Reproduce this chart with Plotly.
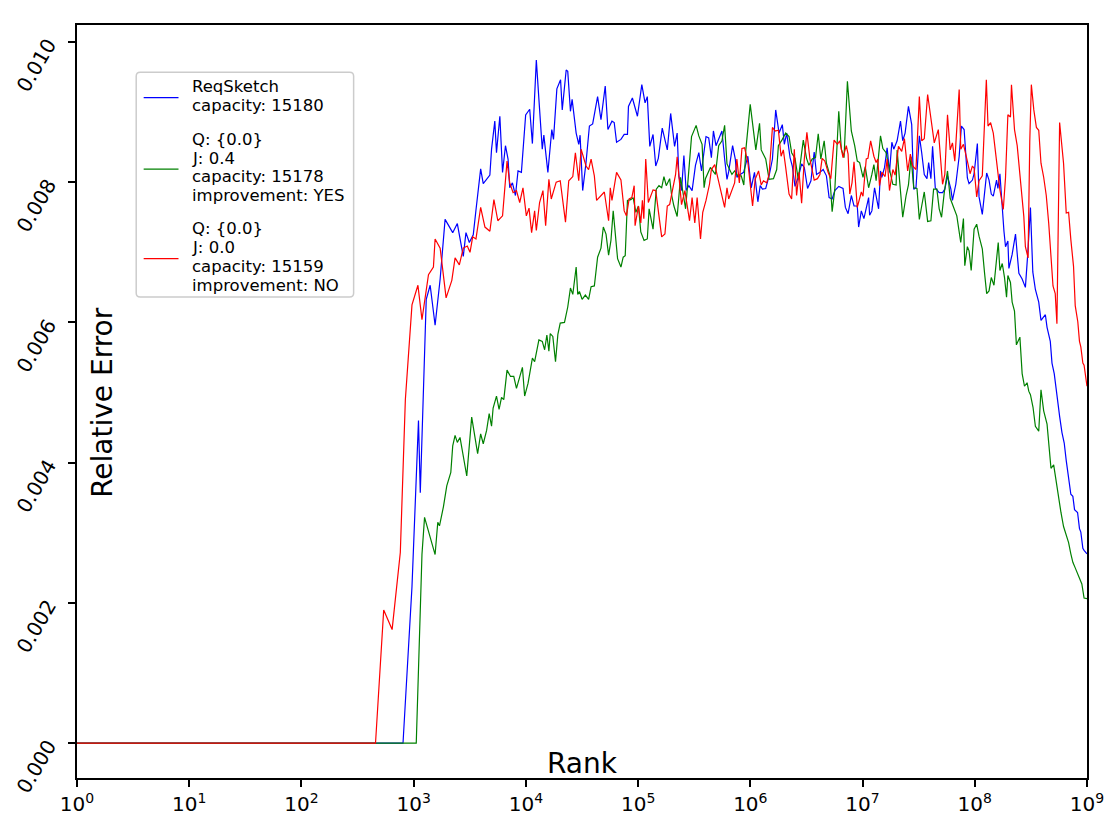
import plotly.graph_objects as go

# Sampled ranks are stored as log10(rank); relative errors in units of 1e-3.

# ReqSketch, capacity 15180
req_log_rank = [
    0.000, 2.905, 2.985, 3.043, 3.059, 3.112, 3.147, 3.191, 3.236, 3.280, 3.348, 3.389, 3.442, 3.466,
    3.496, 3.531, 3.555, 3.597, 3.620, 3.679, 3.694, 3.723, 3.738, 3.768, 3.792, 3.818, 3.841, 3.856,
    3.880, 3.907, 3.930, 3.960, 3.998, 4.034, 4.058, 4.093, 4.116, 4.146, 4.160, 4.196, 4.231, 4.246,
    4.276, 4.309, 4.324, 4.359, 4.373, 4.397, 4.412, 4.448, 4.471, 4.483, 4.506, 4.536, 4.566, 4.595,
    4.639, 4.669, 4.707, 4.731, 4.767, 4.787, 4.808, 4.847, 4.876, 4.905, 4.914, 4.949, 4.994, 5.033,
    5.062, 5.082, 5.104, 5.133, 5.157, 5.180, 5.215, 5.260, 5.290, 5.325, 5.348, 5.363, 5.387, 5.408,
    5.428, 5.452, 5.481, 5.511, 5.541, 5.565, 5.605, 5.629, 5.653, 5.671, 5.694, 5.724, 5.747, 5.771,
    5.792, 5.807, 5.842, 5.866, 5.880, 5.910, 5.940, 5.978, 6.008, 6.037, 6.067, 6.088, 6.108, 6.137,
    6.167, 6.197, 6.226, 6.256, 6.285, 6.303, 6.324, 6.354, 6.374, 6.398, 6.427, 6.457, 6.481, 6.510,
    6.540, 6.569, 6.590, 6.620, 6.649, 6.678, 6.702, 6.729, 6.753, 6.788, 6.826, 6.847, 6.871, 6.900,
    6.924, 6.953, 6.965, 6.989, 7.012, 7.033, 7.054, 7.063, 7.083, 7.107, 7.130, 7.143, 7.160, 7.172,
    7.196, 7.219, 7.240, 7.261, 7.278, 7.308, 7.338, 7.358, 7.379, 7.409, 7.438, 7.456, 7.476, 7.506,
    7.527, 7.550, 7.574, 7.589, 7.609, 7.624, 7.648, 7.683, 7.713, 7.733, 7.757, 7.787, 7.801, 7.831,
    7.861, 7.881, 7.905, 7.934, 7.949, 7.979, 7.994, 8.023, 8.038, 8.067, 8.106, 8.127, 8.147, 8.165,
    8.194, 8.206, 8.224, 8.245, 8.260, 8.274, 8.295, 8.304, 8.333, 8.363, 8.393, 8.422, 8.451, 8.473,
    8.496, 8.517, 8.540, 8.570, 8.590, 8.629, 8.644, 8.673, 8.688, 8.708, 8.732, 8.756, 8.777, 8.797,
    8.815, 8.836, 8.856, 8.874, 8.889, 8.916, 8.933, 8.945, 8.963, 8.974, 9.000,
]
req_err_milli = [
    0.00, 0.00, 2.23, 4.60, 3.57, 6.33, 6.53, 5.96, 6.62, 7.47, 7.28, 7.41, 6.94, 7.28,
    7.14, 7.25, 7.60, 8.19, 7.98, 8.10, 8.47, 8.87, 8.42, 8.94, 8.14, 8.52, 8.33, 7.92,
    7.99, 7.81, 8.16, 8.14, 8.96, 9.04, 8.55, 9.74, 9.18, 8.47, 8.67, 8.14, 8.75, 8.61,
    9.33, 9.46, 9.03, 9.60, 9.58, 9.01, 9.18, 8.70, 8.54, 8.67, 7.88, 8.28, 8.80, 8.83,
    9.22, 8.89, 9.37, 8.75, 8.87, 8.85, 8.57, 8.61, 8.68, 8.68, 9.08, 9.20, 8.94, 9.39,
    9.13, 9.22, 8.51, 8.68, 8.23, 8.34, 8.77, 8.46, 8.98, 8.51, 8.70, 8.09, 7.88, 8.38,
    7.88, 7.95, 7.88, 8.24, 8.42, 8.16, 8.65, 8.63, 8.35, 8.73, 8.52, 8.65, 8.73, 8.33,
    8.04, 8.15, 8.52, 8.33, 8.07, 8.11, 8.14, 8.37, 7.92, 8.14, 7.72, 7.95, 7.90, 7.91,
    8.09, 8.33, 9.03, 8.70, 8.82, 8.54, 8.70, 8.35, 8.23, 7.94, 8.07, 8.26, 8.21, 7.91,
    8.02, 8.43, 8.11, 8.14, 8.18, 8.09, 7.78, 7.76, 7.88, 7.94, 7.91, 7.64, 7.55, 7.81,
    7.66, 7.66, 7.36, 7.59, 7.48, 7.63, 7.78, 7.53, 7.59, 7.92, 7.74, 7.62, 8.16, 8.07,
    8.21, 8.49, 8.14, 8.57, 8.47, 8.59, 8.87, 8.59, 8.70, 9.08, 8.82, 7.90, 7.92, 8.66,
    8.42, 8.11, 8.05, 8.28, 8.05, 8.51, 7.92, 7.85, 7.85, 7.90, 8.09, 7.90, 7.74, 7.97,
    8.37, 8.80, 8.75, 8.06, 7.98, 8.03, 8.12, 8.55, 7.79, 7.54, 8.13, 8.03, 7.83, 7.80,
    8.03, 7.91, 8.12, 7.61, 7.30, 7.08, 7.16, 6.77, 6.97, 7.26, 6.70, 6.62, 6.50, 7.00,
    7.64, 6.72, 6.47, 6.29, 6.03, 6.11, 5.93, 5.73, 5.42, 5.27, 4.94, 4.66, 4.43, 4.28,
    4.03, 3.77, 3.55, 3.52, 3.33, 3.29, 3.06, 3.01, 2.78, 2.75, 2.70,
]

# Q: {0.0}, J: 0.4, capacity 15178
j04_log_rank = [
    0.000, 3.023, 3.074, 3.097, 3.191, 3.215, 3.230, 3.265, 3.295, 3.331, 3.348, 3.369, 3.389, 3.413,
    3.473, 3.517, 3.570, 3.597, 3.620, 3.650, 3.673, 3.694, 3.708, 3.738, 3.761, 3.783, 3.803, 3.832,
    3.863, 3.892, 3.916, 3.945, 3.969, 3.989, 4.019, 4.058, 4.078, 4.116, 4.146, 4.167, 4.187, 4.205,
    4.217, 4.240, 4.264, 4.285, 4.306, 4.344, 4.373, 4.397, 4.418, 4.448, 4.462, 4.477, 4.501, 4.530,
    4.559, 4.581, 4.610, 4.639, 4.669, 4.690, 4.714, 4.737, 4.758, 4.778, 4.796, 4.817, 4.847, 4.867,
    4.885, 4.905, 4.935, 4.956, 4.980, 5.003, 5.024, 5.053, 5.082, 5.098, 5.133, 5.162, 5.186, 5.210,
    5.230, 5.251, 5.281, 5.299, 5.319, 5.348, 5.378, 5.399, 5.423, 5.446, 5.476, 5.517, 5.541, 5.570,
    5.588, 5.600, 5.644, 5.689, 5.718, 5.747, 5.771, 5.792, 5.807, 5.836, 5.860, 5.889, 5.919, 5.942,
    5.960, 5.999, 6.049, 6.082, 6.097, 6.137, 6.167, 6.206, 6.235, 6.250, 6.285, 6.315, 6.345, 6.368,
    6.398, 6.427, 6.451, 6.472, 6.501, 6.522, 6.551, 6.581, 6.605, 6.628, 6.658, 6.678, 6.708, 6.729,
    6.753, 6.788, 6.811, 6.835, 6.865, 6.900, 6.930, 6.953, 6.974, 7.004, 7.024, 7.054, 7.083, 7.101,
    7.121, 7.160, 7.181, 7.210, 7.240, 7.270, 7.299, 7.308, 7.329, 7.358, 7.388, 7.409, 7.432, 7.456,
    7.485, 7.506, 7.527, 7.550, 7.580, 7.609, 7.633, 7.662, 7.683, 7.704, 7.728, 7.757, 7.781, 7.810,
    7.840, 7.875, 7.899, 7.911, 7.934, 7.949, 7.968, 7.994, 8.017, 8.038, 8.067, 8.088, 8.106, 8.127,
    8.147, 8.171, 8.194, 8.209, 8.224, 8.245, 8.265, 8.283, 8.295, 8.318, 8.333, 8.354, 8.371, 8.402,
    8.422, 8.443, 8.466, 8.481, 8.496, 8.519, 8.540, 8.570, 8.590, 8.614, 8.644, 8.659, 8.679, 8.703,
    8.726, 8.747, 8.768, 8.791, 8.815, 8.836, 8.856, 8.874, 8.895, 8.916, 8.933, 8.954, 8.974, 9.000,
]
j04_err_milli = [
    0.00, 0.00, 2.69, 3.22, 2.69, 3.15, 3.10, 3.37, 3.67, 3.86, 4.24, 4.39, 4.29, 4.36,
    3.81, 4.65, 4.13, 4.41, 4.27, 4.46, 4.70, 4.52, 4.78, 4.95, 4.76, 4.93, 4.90, 5.32,
    5.23, 5.23, 5.06, 5.21, 5.36, 4.95, 5.13, 5.49, 5.44, 5.75, 5.73, 5.61, 5.82, 5.59,
    5.84, 5.80, 5.44, 5.83, 5.99, 6.00, 6.22, 6.49, 6.40, 6.79, 6.40, 6.44, 6.33, 6.39,
    6.33, 6.51, 6.52, 6.93, 7.06, 7.36, 7.26, 6.96, 7.17, 7.59, 7.29, 6.91, 6.79, 6.93,
    6.95, 7.74, 7.75, 7.78, 7.57, 7.66, 7.29, 7.17, 7.19, 7.62, 7.33, 7.90, 7.95, 7.92,
    8.08, 7.95, 8.05, 7.81, 7.66, 7.51, 8.07, 7.83, 7.62, 8.05, 8.65, 8.81, 8.66, 8.54,
    7.92, 8.05, 8.21, 8.11, 8.52, 8.59, 8.81, 8.26, 8.20, 8.11, 8.16, 8.09, 8.09, 7.96,
    8.46, 9.11, 8.46, 8.84, 8.46, 8.33, 8.04, 8.05, 8.18, 8.52, 8.61, 8.70, 8.65, 8.42,
    8.34, 8.04, 8.34, 8.60, 8.34, 8.24, 8.33, 8.35, 8.69, 8.33, 8.59, 8.27, 8.10, 7.58,
    7.90, 9.01, 8.47, 8.35, 9.44, 8.73, 8.52, 8.30, 8.28, 8.07, 8.22, 7.92, 8.11, 8.25,
    8.02, 8.66, 8.48, 8.42, 8.18, 7.97, 7.96, 8.46, 8.04, 7.50, 7.81, 7.96, 8.36, 7.92,
    7.91, 7.47, 7.66, 7.86, 7.44, 7.45, 7.90, 7.90, 7.62, 7.50, 7.85, 8.16, 7.77, 7.64,
    7.52, 7.14, 7.48, 6.81, 7.08, 7.02, 6.74, 7.33, 7.40, 7.23, 7.05, 6.69, 6.41, 6.45,
    6.64, 6.53, 6.87, 7.14, 6.74, 6.84, 6.64, 6.36, 6.67, 6.57, 6.29, 6.16, 5.68, 5.79,
    5.27, 5.09, 5.14, 5.02, 4.97, 4.79, 4.52, 4.45, 5.04, 4.74, 4.55, 4.25, 3.92, 3.97,
    3.72, 3.50, 3.29, 3.09, 2.98, 2.86, 2.70, 2.58, 2.50, 2.42, 2.35, 2.27, 2.07, 2.06,
]

# Q: {0.0}, J: 0.0, capacity 15159
j00_log_rank = [
    0.000, 2.660, 2.733, 2.808, 2.881, 2.926, 2.985, 3.038, 3.074, 3.132, 3.176, 3.191, 3.236, 3.289,
    3.340, 3.369, 3.407, 3.442, 3.478, 3.502, 3.526, 3.555, 3.597, 3.635, 3.679, 3.715, 3.750, 3.792,
    3.832, 3.856, 3.886, 3.916, 3.945, 3.974, 4.004, 4.028, 4.051, 4.078, 4.093, 4.122, 4.152, 4.176,
    4.205, 4.226, 4.270, 4.306, 4.353, 4.382, 4.418, 4.441, 4.471, 4.492, 4.536, 4.559, 4.581, 4.610,
    4.630, 4.669, 4.699, 4.737, 4.752, 4.767, 4.808, 4.847, 4.876, 4.896, 4.920, 4.944, 4.965, 4.973,
    5.003, 5.024, 5.038, 5.051, 5.068, 5.091, 5.133, 5.157, 5.180, 5.210, 5.239, 5.260, 5.281, 5.310,
    5.334, 5.348, 5.370, 5.387, 5.417, 5.437, 5.458, 5.481, 5.505, 5.526, 5.556, 5.576, 5.605, 5.636,
    5.653, 5.683, 5.712, 5.742, 5.771, 5.792, 5.807, 5.860, 5.880, 5.902, 5.925, 5.949, 5.978, 6.020,
    6.043, 6.073, 6.097, 6.117, 6.146, 6.167, 6.197, 6.221, 6.250, 6.274, 6.294, 6.315, 6.345, 6.368,
    6.392, 6.412, 6.434, 6.457, 6.481, 6.504, 6.531, 6.569, 6.598, 6.620, 6.640, 6.664, 6.693, 6.717,
    6.746, 6.776, 6.797, 6.826, 6.855, 6.871, 6.886, 6.906, 6.924, 6.953, 6.989, 7.004, 7.033, 7.048,
    7.072, 7.101, 7.121, 7.136, 7.151, 7.172, 7.201, 7.219, 7.240, 7.270, 7.290, 7.320, 7.349, 7.373,
    7.402, 7.426, 7.447, 7.476, 7.506, 7.527, 7.550, 7.580, 7.609, 7.639, 7.675, 7.713, 7.733, 7.757,
    7.781, 7.801, 7.822, 7.861, 7.875, 7.899, 7.934, 7.958, 7.979, 7.994, 8.017, 8.038, 8.067, 8.082,
    8.103, 8.118, 8.141, 8.165, 8.194, 8.224, 8.254, 8.274, 8.295, 8.318, 8.327, 8.354, 8.378, 8.407,
    8.437, 8.451, 8.475, 8.490, 8.504, 8.526, 8.549, 8.570, 8.590, 8.614, 8.637, 8.659, 8.679, 8.697,
    8.717, 8.732, 8.756, 8.777, 8.791, 8.815, 8.836, 8.856, 8.880, 8.895, 8.918, 8.933, 8.945, 8.963,
    8.974, 9.000,
]
j00_err_milli = [
    0.00, 0.00, 1.90, 1.62, 2.72, 4.90, 6.25, 6.53, 6.04, 6.68, 6.79, 7.19, 7.06, 6.35,
    6.60, 6.92, 6.82, 7.06, 7.09, 7.00, 7.22, 7.19, 7.64, 7.36, 7.30, 7.75, 7.45, 7.52,
    8.30, 7.99, 7.85, 7.88, 7.71, 7.92, 7.52, 7.63, 7.28, 7.59, 7.31, 7.71, 7.88, 7.38,
    8.04, 7.76, 8.00, 8.02, 7.43, 8.02, 8.08, 8.42, 8.02, 8.47, 8.23, 8.18, 8.33, 8.09,
    7.74, 7.81, 7.86, 7.45, 7.92, 7.74, 8.14, 8.03, 7.59, 7.52, 7.76, 7.78, 7.95, 7.38,
    7.66, 7.42, 7.74, 7.48, 8.33, 7.71, 7.89, 7.88, 7.62, 7.22, 7.26, 7.66, 7.68, 7.92,
    8.11, 8.36, 8.02, 7.68, 7.88, 7.64, 7.45, 7.78, 7.42, 7.78, 7.19, 7.57, 7.74, 7.97,
    8.18, 8.25, 8.04, 7.82, 7.64, 7.92, 7.76, 7.99, 8.33, 7.99, 8.48, 8.49, 8.28, 7.66,
    8.04, 8.16, 7.96, 8.02, 7.99, 8.11, 8.78, 8.73, 8.74, 8.37, 8.46, 8.21, 7.83, 7.76,
    8.47, 7.81, 8.14, 7.70, 8.33, 8.71, 8.33, 8.03, 8.05, 8.11, 8.34, 8.30, 8.14, 8.05,
    8.60, 8.54, 8.59, 8.35, 8.52, 8.40, 7.83, 7.99, 8.29, 7.64, 7.86, 7.80, 8.33, 8.34,
    8.59, 8.37, 8.28, 8.33, 7.95, 8.14, 8.08, 8.33, 7.88, 8.18, 8.10, 8.51, 8.44, 8.62,
    8.16, 8.40, 8.23, 8.18, 9.22, 8.59, 8.62, 9.25, 8.94, 8.56, 8.75, 7.97, 8.11, 8.96,
    8.46, 8.56, 8.30, 9.32, 8.47, 8.54, 8.30, 8.12, 8.23, 8.20, 7.79, 8.02, 8.09, 8.72,
    9.46, 8.80, 8.85, 8.70, 8.27, 7.89, 7.61, 8.07, 8.96, 8.93, 9.39, 8.75, 8.52, 7.97,
    7.51, 7.08, 6.92, 8.58, 9.39, 9.03, 8.78, 8.74, 8.27, 8.07, 7.81, 7.41, 6.97, 6.52,
    6.41, 5.98, 8.85, 8.45, 8.27, 7.56, 7.57, 7.18, 6.80, 6.24, 6.01, 5.73, 5.65, 5.42,
    5.39, 5.09,
]

# Legend entries: one list of text lines per series
series_labels = [
    ["ReqSketch", "capacity: 15180"],
    ["Q: {0.0}", "J: 0.4", "capacity: 15178", "improvement: YES"],
    ["Q: {0.0}", "J: 0.0", "capacity: 15159", "improvement: NO"],
]
series_colors = ["#0000ff", "#008000", "#ff0000"]

x_tick_exponents = [0, 1, 2, 3, 4, 5, 6, 7, 8, 9]
y_tick_values = [0.000, 0.002, 0.004, 0.006, 0.008, 0.010]
y_tick_labels = ["0.000", "0.002", "0.004", "0.006", "0.008", "0.010"]

FONT = "DejaVu Sans"
W, H = 1116, 828
M_L, M_R, M_T, M_B = 75, 26, 25, 46
PLOT_W = W - M_L - M_R
PLOT_H = H - M_T - M_B


def px_x(px):
    """Pixel column -> paper x."""
    return (px - M_L) / PLOT_W


def px_y(py):
    """Pixel row (from top) -> paper y."""
    return (H - M_B - py) / PLOT_H


fig = go.Figure()
series = [
    (req_log_rank, req_err_milli),
    (j04_log_rank, j04_err_milli),
    (j00_log_rank, j00_err_milli),
]
for (log_rank, err_milli), lines, color in zip(series, series_labels, series_colors):
    fig.add_trace(go.Scatter(
        x=[10 ** e for e in log_rank],
        y=[v / 1000 for v in err_milli],
        mode="lines",
        name=" ".join(lines),
        line=dict(color=color, width=1.2),
        showlegend=False,
    ))

# Hand-laid legend box (rounded frame, line samples, multi-line labels)
shapes = []
annotations = []
box_l, box_r, box_t, box_b, rad = 134.5, 353.0, 72.5, 298.5, 4.0
x0, x1 = px_x(box_l), px_x(box_r)
y0, y1 = px_y(box_b), px_y(box_t)
rx, ry = rad / PLOT_W, rad / PLOT_H
frame_path = (
    f"M {x0 + rx},{y1} L {x1 - rx},{y1} Q {x1},{y1} {x1},{y1 - ry} "
    f"L {x1},{y0 + ry} Q {x1},{y0} {x1 - rx},{y0} "
    f"L {x0 + rx},{y0} Q {x0},{y0} {x0},{y0 + ry} "
    f"L {x0},{y1 - ry} Q {x0},{y1} {x0 + rx},{y1} Z"
)
shapes.append(dict(type="path", path=frame_path, xref="paper", yref="paper",
                   fillcolor="white", line=dict(color="#cccccc", width=1.5), layer="above"))

line_step = 18.9
entry_tops = [87.0, 140.0, 230.0]
for lines, color, top in zip(series_labels, series_colors, entry_tops):
    centers = [top + i * line_step for i in range(len(lines))]
    mid = (centers[0] + centers[-1]) / 2 + 1.5
    shapes.append(dict(type="line", xref="paper", yref="paper",
                       x0=px_x(142), x1=px_x(177), y0=px_y(mid), y1=px_y(mid),
                       line=dict(color=color, width=1.3), layer="above"))
    for text, cy in zip(lines, centers):
        annotations.append(dict(text=text, xref="paper", yref="paper",
                                x=px_x(189), y=px_y(cy), xanchor="left", yanchor="middle",
                                showarrow=False, font=dict(family=FONT, size=16.5, color="black")))

annotations.append(dict(text="Relative Error", xref="paper", yref="paper",
                        x=px_x(101), y=px_y(404), xanchor="center", yanchor="middle",
                        textangle=-90, showarrow=False,
                        font=dict(family=FONT, size=28, color="black")))
annotations.append(dict(text="Rank", xref="paper", yref="paper",
                        x=px_x(583), y=px_y(767), xanchor="center", yanchor="middle",
                        showarrow=False, font=dict(family=FONT, size=28, color="black")))

fig.update_layout(
    width=W,
    height=H,
    margin=dict(l=M_L, r=M_R, t=M_T, b=M_B),
    paper_bgcolor="white",
    plot_bgcolor="white",
    font=dict(family=FONT, color="black"),
    showlegend=False,
    xaxis=dict(
        type="log",
        range=[0, 9],
        tickvals=[10 ** e for e in x_tick_exponents],
        ticktext=[f"10<sup>{e}</sup>" for e in x_tick_exponents],
        tickfont=dict(family=FONT, size=20),
        ticks="outside", ticklen=7, tickwidth=1.8, tickcolor="black",
        showline=True, linecolor="black", linewidth=1.8, mirror=True,
        showgrid=False, zeroline=False,
    ),
    yaxis=dict(
        range=[-0.000496, 0.010241],
        tickvals=y_tick_values,
        ticktext=y_tick_labels,
        tickangle=-60,
        tickfont=dict(family=FONT, size=20),
        ticklabelstandoff=16,
        ticks="outside", ticklen=7, tickwidth=1.8, tickcolor="black",
        showline=True, linecolor="black", linewidth=1.8, mirror=True,
        showgrid=False, zeroline=False,
    ),
    shapes=shapes,
    annotations=annotations,
)

fig.write_html("out.html")
